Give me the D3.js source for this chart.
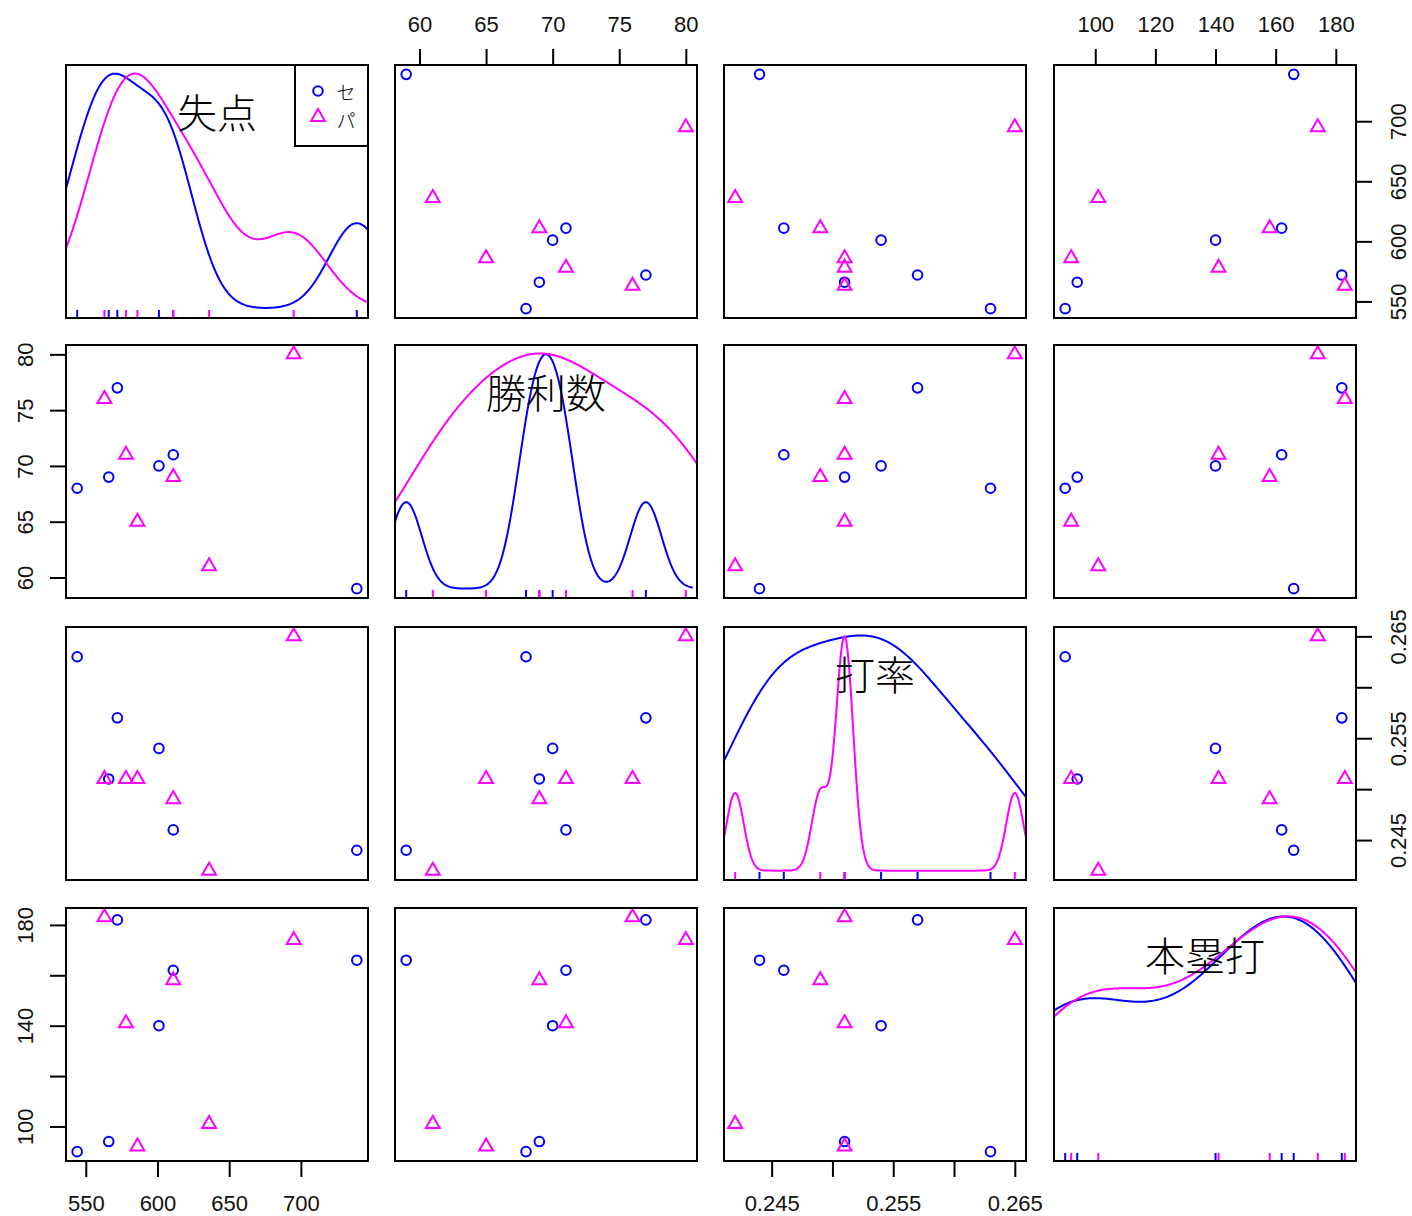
<!DOCTYPE html>
<html><head><meta charset="utf-8">
<script src="https://cdn.jsdelivr.net/npm/d3@7"></script>
<style>body{margin:0;background:#fff} svg{display:block}</style>
</head><body>
<svg id="c" width="1412" height="1216"></svg>
<script>
// ---------- data ----------
const groups = ["セ", "パ"];
const groupColors = ["#0000FF", "#FF00FF"];
const varNames = ["失点", "勝利数", "打率", "本塁打"];
const teamGroup   = ["セ","セ","セ","セ","セ","セ","パ","パ","パ","パ","パ","パ"];
const runsAllowed = [544, 566, 572, 601, 611, 739, 563, 578, 586, 611, 636, 695];
const wins        = [68, 69, 77, 70, 71, 59, 76, 71, 65, 69, 61, 80];
const battingAvg  = [0.263, 0.251, 0.257, 0.254, 0.246, 0.244, 0.251, 0.251, 0.251, 0.249, 0.242, 0.265];
const homeRuns    = [90, 94, 182, 140, 162, 166, 183, 141, 92, 158, 101, 174];
const tickValues = [[550,600,650,700],[60,65,70,75,80],[0.245,0.250,0.255,0.260,0.265],[100,120,140,160,180]];
const tickLabelsH = [["550","600","650","700"],["60","65","70","75","80"],["0.245","","0.255","","0.265"],["100","120","140","160","180"]];
const tickLabelsV = [["550","600","650","700"],["60","65","70","75","80"],["0.245","","0.255","","0.265"],["100","","140","","180"]];

// ---------- layout ----------
const vars = [runsAllowed, wins, battingAvg, homeRuns];
const colX = [66, 395, 724, 1054];
const rowY = [65, 345, 627, 908];
const PW = 302, PH = 253;
const svg = d3.select("#c");
const tickFont = "'Liberation Sans', Arial, sans-serif";
const cjkFont = "'Noto Sans CJK JP', 'Noto Sans CJK SC', sans-serif";

function padded(v){ const [a,b]=d3.extent(v); const r=b-a; return [a-0.04*r, b+0.04*r]; }
const xs = vars.map((v,j)=>d3.scaleLinear().domain(padded(v)).range([colX[j], colX[j]+PW]));
const ys = vars.map((v,i)=>d3.scaleLinear().domain(padded(v)).range([rowY[i]+PH, rowY[i]]));

const defs = svg.append("defs");
for (let k=0;k<4;k++){
  defs.append("clipPath").attr("id","clip"+k).append("rect")
    .attr("x", colX[k]).attr("y", rowY[k]).attr("width", PW).attr("height", PH);
}

function bwNrd0(x){
  const s = d3.deviation(x);
  const sorted = x.slice().sort(d3.ascending);
  const iqr = d3.quantileSorted(sorted,0.75) - d3.quantileSorted(sorted,0.25);
  let lo = Math.min(s, iqr/1.34);
  if (!(lo>0)) lo = s || 1;
  return 0.9*lo*Math.pow(x.length,-0.2);
}
function kde(x){
  const bw = bwNrd0(x), n = 512;
  const from = d3.min(x)-3*bw, to = d3.max(x)+3*bw;
  const pts = [];
  for (let i=0;i<n;i++){
    const t = from + (to-from)*i/(n-1);
    let s = 0;
    for (const v of x){ const z=(t-v)/bw; s += Math.exp(-0.5*z*z); }
    pts.push([t, s/(x.length*bw*Math.sqrt(2*Math.PI))]);
  }
  return pts;
}

function drawPoint(g, cx, cy, gi){
  if (gi===0){
    g.append("circle").attr("cx",cx).attr("cy",cy).attr("r",4.8)
      .attr("fill","none").attr("stroke",groupColors[0]).attr("stroke-width",2);
  } else {
    const r = 8;
    const p = [[cx, cy-r],[cx+r*Math.sqrt(3)/2, cy+r/2],[cx-r*Math.sqrt(3)/2, cy+r/2]];
    g.append("path").attr("d","M"+p.map(q=>q.join(",")).join("L")+"Z")
      .attr("fill","none").attr("stroke",groupColors[1]).attr("stroke-width",2);
  }
}

const idx = d3.range(teamGroup.length);
for (let i=0;i<4;i++){
  for (let j=0;j<4;j++){
    const g = svg.append("g");
    if (i===j){
      const all = vars[j];
      const mn = d3.min(all), rg = d3.max(all)-mn;
      const gl = g.append("g").attr("clip-path","url(#clip"+j+")");
      groups.forEach((grp,gi)=>{
        const sub = idx.filter(k=>teamGroup[k]===grp).map(k=>all[k]);
        const d = kde(sub);
        const dmin = d3.min(d,p=>p[1]), dmax = d3.max(d,p=>p[1]);
        const line = d3.line().x(p=>xs[j](p[0])).y(p=>ys[j](mn + p[1]*rg/(dmax-dmin)));
        gl.append("path").attr("d", line(d)).attr("fill","none")
          .attr("stroke", groupColors[gi]).attr("stroke-width",2);
      });
      // rug
      groups.forEach((grp,gi)=>{
        idx.filter(k=>teamGroup[k]===grp).forEach(k=>{
          const x = xs[j](all[k]);
          g.append("line").attr("x1",x).attr("x2",x)
            .attr("y1",rowY[j]+PH).attr("y2",rowY[j]+PH-8)
            .attr("stroke",groupColors[gi]).attr("stroke-width",2);
        });
      });
      g.append("text").attr("x", colX[j]+PW/2).attr("y", rowY[j]+46)
        .attr("text-anchor","middle").attr("dominant-baseline","central")
        .attr("font-family", cjkFont).attr("font-weight",300).attr("font-size",40)
        .attr("fill","#000").text(varNames[j]);
    } else {
      groups.forEach((grp,gi)=>{
        idx.filter(k=>teamGroup[k]===grp).forEach(k=>{
          drawPoint(g, xs[j](vars[j][k]), ys[i](vars[i][k]), gi);
        });
      });
    }
    g.append("rect").attr("x",colX[j]).attr("y",rowY[i]).attr("width",PW).attr("height",PH)
      .attr("fill","none").attr("stroke","#000").attr("stroke-width",2);
  }
}

// ---------- axes ----------
function styleAxis(a){
  a.select(".domain").remove();
  a.selectAll(".tick line").attr("stroke","#000").attr("stroke-width",2);
  a.selectAll(".tick text").attr("font-family",tickFont).attr("font-size",22).attr("fill","#111");
}
for (let j=0;j<4;j++){
  const labs = tickLabelsH[j];
  const fmt = (d,k)=>labs[k];
  if (j%2===0){
    const a = svg.append("g").attr("transform",`translate(0,${rowY[3]+PH})`)
      .call(d3.axisBottom(xs[j]).tickValues(tickValues[j]).tickSize(16).tickFormat(fmt));
    styleAxis(a);
    a.selectAll(".tick text").attr("y",42).attr("dy",null).attr("dominant-baseline","central");
  } else {
    const a = svg.append("g").attr("transform",`translate(0,${rowY[0]})`)
      .call(d3.axisTop(xs[j]).tickValues(tickValues[j]).tickSize(16).tickFormat(fmt));
    styleAxis(a);
    a.selectAll(".tick text").attr("y",-41).attr("dy",null).attr("dominant-baseline","central");
  }
}
for (let i=0;i<4;i++){
  const labs = tickLabelsV[i];
  const fmt = (d,k)=>labs[k];
  if (i%2===1){
    const a = svg.append("g").attr("transform",`translate(${colX[0]},0)`)
      .call(d3.axisLeft(ys[i]).tickValues(tickValues[i]).tickSize(16).tickFormat(fmt));
    styleAxis(a);
    a.selectAll(".tick text").attr("x",null).attr("dy",null)
      .attr("text-anchor","middle").attr("dominant-baseline","central")
      .attr("transform","translate(-41,0) rotate(-90)");
  } else {
    const a = svg.append("g").attr("transform",`translate(${colX[3]+PW},0)`)
      .call(d3.axisRight(ys[i]).tickValues(tickValues[i]).tickSize(16).tickFormat(fmt));
    styleAxis(a);
    a.selectAll(".tick text").attr("x",null).attr("dy",null)
      .attr("text-anchor","middle").attr("dominant-baseline","central")
      .attr("transform","translate(42,0) rotate(-90)");
  }
}

// ---------- legend ----------
const lg = svg.append("g");
const lx = colX[0]+PW-73, ly = rowY[0];
lg.append("rect").attr("x",lx).attr("y",ly).attr("width",73).attr("height",81)
  .attr("fill","#fff").attr("stroke","#000").attr("stroke-width",2);
groups.forEach((grp,gi)=>{
  drawPoint(lg, lx+23, ly+26+gi*26, gi);
  lg.append("text").attr("x", lx+51).attr("y", ly+26+gi*28)
    .attr("text-anchor","middle").attr("dominant-baseline","central")
    .attr("font-family", cjkFont).attr("font-weight",300).attr("font-size",19)
    .attr("fill","#000").text(grp);
});
</script>
</body></html>
